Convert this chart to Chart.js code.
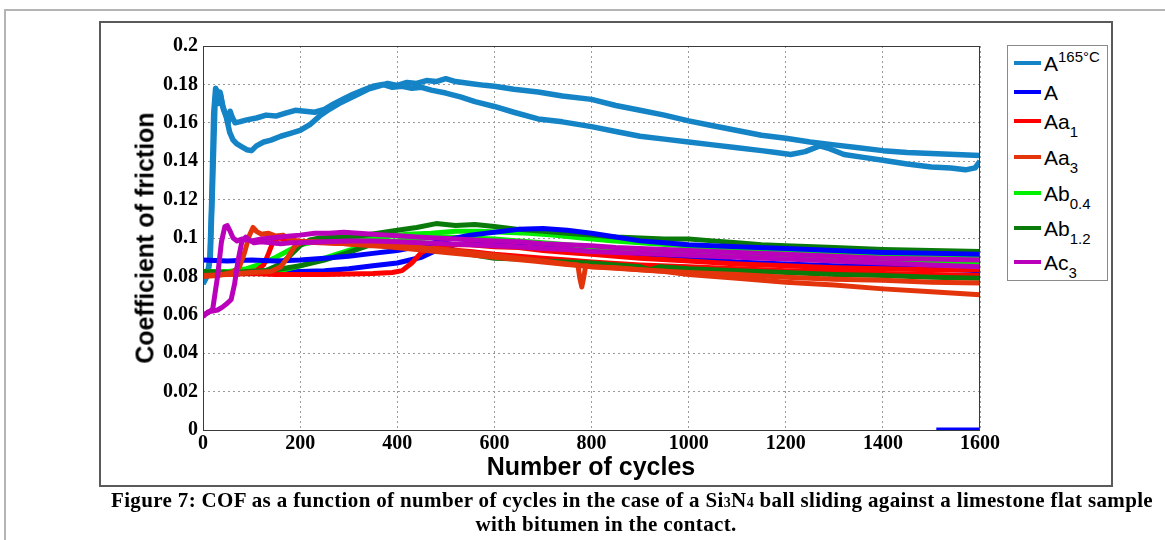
<!DOCTYPE html>
<html>
<head>
<meta charset="utf-8">
<script src="https://cdn.jsdelivr.net/npm/chart.js@4.4.1/dist/chart.umd.min.js"></script>
<style>
  body { margin: 0; width: 1165px; height: 540px; background: #fff; overflow: hidden; position: relative; }
  #outer { position: absolute; left: 4px; top: 9px; width: 1170px; height: 540px; border-top: 2px solid #b4b4b4; border-left: 2px solid #b4b4b4; }
  #fig { position: absolute; left: 99px; top: 21px; width: 1010px; height: 462px; border: 2px solid #5a5a5a; }
  #chart { position: absolute; left: 0; top: 0; }
  .axis-title { position: absolute; font: bold 25px "Liberation Sans", Arial, sans-serif; color: #000; white-space: nowrap; transform: translate(-50%, -50%); }
  #ytitle { left: 145px; top: 238px; transform: translate(-50%, -50%) rotate(-90deg); }
  #xtitle { left: 591px; top: 466px; }
  #legend { position: absolute; left: 1007px; top: 45px; width: 99px; height: 234px; border: 1px solid #8a8a8a; background: #fff; }
  .swatch { position: absolute; left: 6px; width: 27px; height: 4px; }
  .lbl { position: absolute; left: 36px; font: 21px "Liberation Sans", Arial, sans-serif; line-height: 21px; white-space: nowrap; color: #000; }
  .lbl .sub { font-size: 15px; position: relative; top: 8px; }
  .lbl .sup { font-size: 15px; position: relative; top: -9px; }
  .cap { position: absolute; white-space: nowrap; transform: translateX(-50%); font: bold 21px "Liberation Serif", "Times New Roman", serif; letter-spacing: 0.35px; line-height: 24px; color: #000; }
  #cap1 { left: 632px; top: 488px; }
  #cap2 { left: 606px; top: 512px; }
  .cap .s { font-size: 14px; }
</style>
</head>
<body>
<div id="outer"></div>
<div id="fig"></div>
<canvas id="chart" width="1165" height="540"></canvas>
<div id="ytitle" class="axis-title">Coefficient of friction</div>
<div id="xtitle" class="axis-title">Number of cycles</div>
<div id="legend"></div>
<div id="cap1" class="cap">Figure 7: COF as a function of number of cycles in the case of a Si<span class="s">3</span>N<span class="s">4</span> ball sliding against a limestone flat sample</div>
<div id="cap2" class="cap">with bitumen in the contact.</div>

<script>
// tick labels
const xTickLabels = ['0', '200', '400', '600', '800', '1000', '1200', '1400', '1600'];
const yTickLabels = ['0', '0.02', '0.04', '0.06', '0.08', '0.1', '0.12', '0.14', '0.16', '0.18', '0.2'];

// legend entries: base text, subscript, superscript
const legendBase = ['A', 'A', 'Aa', 'Aa', 'Ab', 'Ab', 'Ac'];
const legendSub = ['', '', '1', '3', '0.4', '1.2', '3'];
const legendSup = ['165°C', '', '', '', '', '', ''];

// series, [cycles, COF] (two runs per sample)
const a165Run1 = [[0,0.077],[5,0.079],[10,0.082],[15,0.09],[20,0.13],[25,0.172],[28,0.177],[32,0.170],[36,0.175],[42,0.167],[48,0.163],[55,0.155],[62,0.151],[70,0.149],[80,0.1475],[90,0.146],[100,0.1455],[110,0.148],[125,0.150],[140,0.151],[160,0.153],[180,0.1545],[200,0.156],[220,0.159],[240,0.1635],[260,0.167],[280,0.170],[300,0.1725],[320,0.175],[340,0.1775],[360,0.179],[380,0.1805],[400,0.1795],[420,0.181],[440,0.1805],[460,0.182],[480,0.1815],[500,0.183],[520,0.1815],[550,0.1805],[580,0.1795],[600,0.179],[640,0.1775],[690,0.176],[740,0.174],[800,0.1722],[850,0.169],[900,0.1665],[950,0.164],[1000,0.161],[1050,0.1585],[1100,0.156],[1150,0.1535],[1200,0.152],[1250,0.150],[1300,0.1485],[1350,0.147],[1400,0.1455],[1450,0.1445],[1500,0.144],[1550,0.1435],[1600,0.143]];
const a165Run2 = [[0,0.076],[8,0.08],[14,0.088],[18,0.12],[22,0.165],[26,0.178],[30,0.172],[35,0.176],[40,0.169],[46,0.165],[52,0.160],[56,0.166],[60,0.163],[66,0.160],[75,0.1605],[90,0.1615],[110,0.1625],[130,0.164],[150,0.1635],[170,0.165],[190,0.1665],[210,0.166],[230,0.1655],[250,0.167],[270,0.170],[290,0.1725],[310,0.175],[330,0.177],[350,0.179],[370,0.180],[390,0.1785],[410,0.179],[430,0.178],[450,0.1785],[470,0.177],[500,0.1755],[530,0.1735],[560,0.171],[600,0.1685],[640,0.1655],[690,0.162],[740,0.1605],[800,0.158],[850,0.1555],[900,0.153],[950,0.1515],[1000,0.150],[1050,0.1485],[1100,0.147],[1150,0.1455],[1180,0.1445],[1210,0.1435],[1240,0.145],[1270,0.148],[1290,0.1465],[1320,0.1435],[1360,0.142],[1400,0.1405],[1450,0.1385],[1500,0.137],[1540,0.1365],[1570,0.1355],[1590,0.1365],[1600,0.140]];

const aRun1 = [[0,0.0885],[50,0.088],[100,0.0885],[150,0.088],[200,0.0885],[250,0.0895],[300,0.0905],[350,0.092],[400,0.0935],[450,0.096],[500,0.099],[550,0.1015],[600,0.103],[650,0.1045],[700,0.105],[750,0.104],[800,0.1025],[850,0.1005],[900,0.0985],[950,0.0975],[1000,0.0965],[1100,0.0955],[1200,0.0945],[1300,0.0935],[1400,0.0925],[1500,0.092],[1600,0.0915]];
const aRun2 = [[0,0.082],[50,0.0815],[100,0.082],[150,0.082],[200,0.0825],[250,0.083],[300,0.084],[350,0.0855],[400,0.087],[450,0.090],[480,0.0935],[520,0.0965],[560,0.0975],[600,0.0975],[650,0.0965],[700,0.0955],[750,0.0945],[800,0.0935],[850,0.0925],[900,0.0905],[1000,0.0895],[1100,0.0875],[1200,0.0865],[1300,0.0855],[1400,0.085],[1500,0.084],[1600,0.083]];
const aTail = [[1510,0],[1600,0]];

const aa1Run1 = [[0,0.0815],[50,0.081],[100,0.0815],[150,0.081],[200,0.081],[250,0.081],[300,0.0812],[350,0.0815],[390,0.082],[410,0.083],[430,0.087],[450,0.0925],[470,0.095],[500,0.0965],[550,0.0965],[600,0.0955],[650,0.095],[700,0.0935],[750,0.0925],[800,0.0915],[900,0.0895],[1000,0.088],[1100,0.0865],[1200,0.0855],[1300,0.0845],[1400,0.084],[1500,0.0835],[1600,0.0835]];
const aa1Run2 = [[0,0.081],[40,0.0815],[80,0.082],[110,0.083],[125,0.086],[135,0.092],[145,0.0985],[155,0.1],[170,0.0995],[190,0.0985],[220,0.098],[260,0.0975],[300,0.097],[350,0.0965],[400,0.096],[450,0.095],[500,0.094],[550,0.093],[600,0.0915],[650,0.0905],[700,0.0895],[750,0.0885],[800,0.0875],[900,0.086],[1000,0.085],[1100,0.084],[1200,0.083],[1300,0.0825],[1400,0.0815],[1500,0.081],[1600,0.0805]];

const aa3Run1 = [[0,0.080],[30,0.0805],[60,0.082],[75,0.085],[85,0.092],[95,0.101],[103,0.1055],[110,0.1035],[120,0.102],[135,0.1025],[150,0.101],[165,0.1015],[180,0.0995],[200,0.098],[240,0.0975],[300,0.097],[350,0.0965],[400,0.096],[450,0.095],[500,0.094],[550,0.0925],[600,0.091],[650,0.0895],[700,0.088],[750,0.0865],[772,0.086],[776,0.079],[780,0.0745],[784,0.0795],[788,0.0855],[800,0.085],[850,0.0845],[900,0.0835],[950,0.0825],[1000,0.081],[1100,0.079],[1200,0.077],[1300,0.0755],[1400,0.0735],[1500,0.072],[1600,0.0705]];
const aa3Run2 = [[0,0.0805],[50,0.081],[100,0.082],[140,0.0825],[160,0.085],[175,0.09],[190,0.096],[205,0.098],[230,0.098],[270,0.0975],[320,0.0965],[380,0.0955],[440,0.094],[500,0.0925],[560,0.091],[620,0.0895],[680,0.088],[740,0.0865],[800,0.085],[900,0.0835],[1000,0.082],[1100,0.081],[1200,0.0795],[1300,0.0785],[1400,0.078],[1500,0.077],[1600,0.0765]];

const ab04Run1 = [[0,0.0825],[50,0.0825],[90,0.084],[120,0.0865],[150,0.090],[180,0.094],[200,0.0965],[230,0.098],[270,0.0985],[320,0.0995],[370,0.1005],[420,0.102],[470,0.1025],[520,0.1035],[570,0.1035],[620,0.103],[670,0.1025],[720,0.1015],[780,0.1],[840,0.0985],[900,0.0975],[960,0.0965],[1020,0.0955],[1100,0.0945],[1200,0.093],[1300,0.092],[1400,0.091],[1500,0.09],[1600,0.0895]];
const ab04Run2 = [[0,0.0815],[60,0.0815],[120,0.082],[160,0.083],[200,0.0855],[250,0.0895],[300,0.0935],[340,0.0965],[380,0.098],[420,0.099],[460,0.1],[500,0.1005],[550,0.1],[600,0.0995],[650,0.0985],[700,0.0975],[750,0.0965],[800,0.0955],[850,0.0945],[900,0.0935],[1000,0.092],[1100,0.091],[1200,0.0895],[1300,0.0885],[1400,0.0875],[1500,0.087],[1600,0.0865]];

const ab12Run1 = [[0,0.082],[50,0.0815],[100,0.082],[130,0.083],[160,0.0865],[180,0.091],[200,0.096],[220,0.099],[240,0.1],[280,0.1005],[320,0.101],[360,0.1025],[400,0.104],[440,0.1055],[480,0.1075],[520,0.1065],[560,0.107],[600,0.106],[650,0.1045],[700,0.1035],[750,0.1025],[800,0.1015],[850,0.1005],[900,0.1],[950,0.0995],[1000,0.0995],[1050,0.0985],[1100,0.0975],[1150,0.0965],[1200,0.096],[1300,0.095],[1400,0.094],[1500,0.0935],[1600,0.093]];
const ab12Run2 = [[0,0.0825],[50,0.082],[100,0.0825],[150,0.0835],[200,0.0855],[250,0.0885],[300,0.0925],[340,0.096],[380,0.0965],[420,0.0955],[460,0.094],[500,0.093],[550,0.0915],[600,0.0895],[650,0.089],[700,0.088],[750,0.0875],[800,0.087],[850,0.086],[900,0.085],[920,0.0835],[940,0.085],[1000,0.084],[1100,0.083],[1200,0.082],[1300,0.081],[1400,0.0805],[1500,0.0795],[1600,0.079]];

const ac3Run1 = [[0,0.060],[10,0.061],[20,0.063],[30,0.08],[38,0.098],[45,0.106],[50,0.1065],[55,0.104],[62,0.100],[70,0.0985],[80,0.0995],[90,0.099],[100,0.0985],[120,0.0995],[140,0.1],[160,0.1005],[180,0.101],[200,0.1015],[230,0.1025],[260,0.1025],[290,0.103],[320,0.1025],[350,0.102],[380,0.1015],[410,0.101],[440,0.1005],[480,0.1],[520,0.0995],[560,0.099],[600,0.0985],[650,0.098],[700,0.097],[750,0.0965],[800,0.096],[850,0.095],[900,0.0945],[950,0.094],[1000,0.0935],[1100,0.0925],[1200,0.0915],[1300,0.0905],[1400,0.0895],[1500,0.089],[1600,0.0885]];
const ac3Run2 = [[0,0.059],[10,0.0615],[20,0.062],[30,0.0625],[40,0.064],[50,0.066],[58,0.068],[65,0.076],[72,0.088],[80,0.098],[88,0.1005],[95,0.099],[105,0.0975],[120,0.098],[140,0.0975],[160,0.097],[180,0.0975],[200,0.0975],[250,0.098],[300,0.0985],[350,0.0985],[400,0.098],[450,0.0975],[500,0.097],[550,0.0965],[600,0.096],[650,0.0955],[700,0.0945],[750,0.094],[800,0.093],[850,0.0925],[900,0.092],[1000,0.091],[1100,0.090],[1200,0.089],[1300,0.088],[1400,0.087],[1500,0.086],[1600,0.085]];

// sample colours, in legend order
const colors = ['#1484c6', '#0000ff', '#ff0000', '#e3340c', '#00f000', '#0a7a0a', '#bb00bb'];

// first entry is drawn on top
const runs = [
  [ac3Run1, 6], [ac3Run2, 6],
  [aa3Run1, 3], [aa3Run2, 3],
  [aRun1, 1],
  [ab12Run1, 5], [ab12Run2, 5],
  [aa1Run1, 2], [aa1Run2, 2],
  [ab04Run1, 4], [ab04Run2, 4],
  [aRun2, 1], [aTail, 1],
  [a165Run1, 0], [a165Run2, 0]
];

function buildLegend() {
  const box = document.getElementById('legend');
  const rowY = [17, 46, 75, 111, 147, 182, 216];
  legendBase.forEach((base, i) => {
    const sw = document.createElement('div');
    sw.className = 'swatch';
    sw.style.top = (rowY[i] - 2) + 'px';
    sw.style.background = colors[i];
    box.appendChild(sw);
    const t = document.createElement('div');
    t.className = 'lbl';
    t.style.top = (rowY[i] - 10) + 'px';
    let html = base;
    if (legendSub[i]) html += '<span class="sub">' + legendSub[i] + '</span>';
    if (legendSup[i]) html += '<span class="sup">' + legendSup[i] + '</span>';
    t.innerHTML = html;
    box.appendChild(t);
  });
}

// box round the plot, MATLAB style
const frame = {
  id: 'frame',
  afterDatasetsDraw(chart) {
    const a = chart.chartArea;
    const ctx = chart.ctx;
    ctx.save();
    ctx.strokeStyle = '#3a3a3a';
    ctx.lineWidth = 1;
    ctx.strokeRect(a.left + 0.5, a.top + 0.5, a.right - a.left - 1, a.bottom - a.top);
    ctx.restore();
  }
};

function createChart() {
  const datasets = runs.map(([pts, c]) => ({
    data: pts,
    borderColor: colors[c],
    backgroundColor: colors[c],
    borderWidth: c === 0 ? 5.5 : 5,
    pointRadius: 0,
    tension: 0,
    fill: false,
    borderJoinStyle: 'round'
  }));

  const tickFont = { family: '"Liberation Serif", "Times New Roman", serif', size: 20, weight: 'bold' };

  const config = {
    type: 'line',
    data: { datasets: datasets },
    options: {
      responsive: false,
      devicePixelRatio: 1,
      animation: false,
      layout: { padding: { left: 0, top: 46, right: 185, bottom: 0 } },
      plugins: { legend: { display: false }, tooltip: { enabled: false } },
      scales: {
        x: {
          type: 'linear',
          min: 0,
          max: 1600,
          afterFit: (s) => { s.height = 110; },
          afterBuildTicks: (s) => { s.ticks = xTickLabels.map(v => ({ value: +v })); },
          ticks: {
            color: '#000',
            font: tickFont,
            padding: 2,
            maxRotation: 0,
            autoSkip: false,
            callback: (v, i) => xTickLabels[i]
          },
          grid: { color: '#9a9a9a', lineWidth: 1, drawTicks: false },
          border: { display: false, dash: [2, 3] }
        },
        y: {
          type: 'linear',
          min: 0,
          max: 0.2,
          afterFit: (s) => { s.width = 203; },
          afterBuildTicks: (s) => { s.ticks = yTickLabels.map(v => ({ value: +v })); },
          ticks: {
            color: '#000',
            font: tickFont,
            padding: 5,
            autoSkip: false,
            callback: (v, i) => yTickLabels[i]
          },
          grid: { color: '#9a9a9a', lineWidth: 1, drawTicks: false },
          border: { display: false, dash: [2, 3] }
        }
      }
    },
    plugins: [frame]
  };

  new Chart(document.getElementById('chart').getContext('2d'), config);
}

buildLegend();
createChart();
</script>
</body>
</html>
